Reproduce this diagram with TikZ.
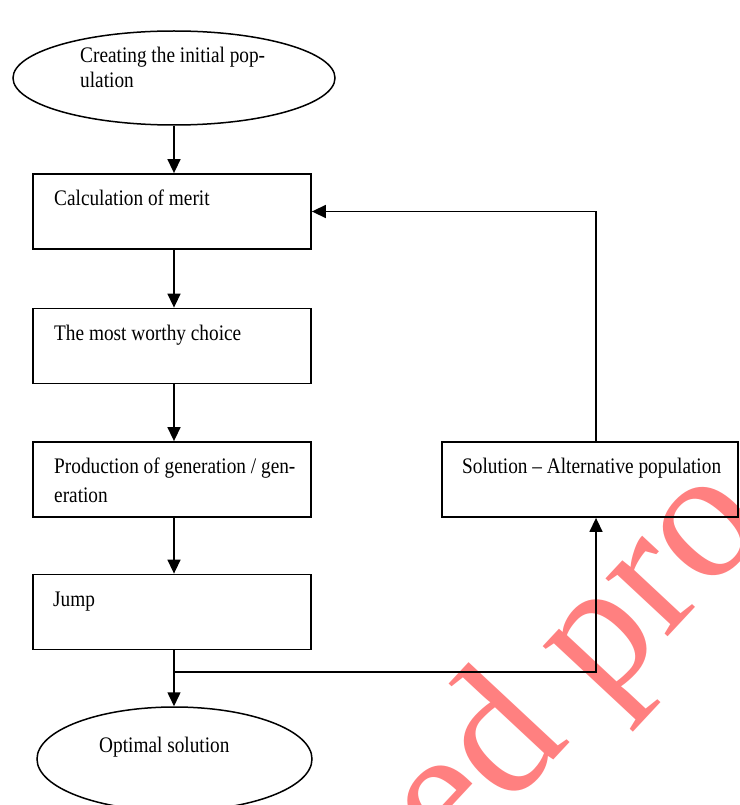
\documentclass[tikz,border=0pt]{standalone}
\usepackage{fontspec}
\setmainfont{Liberation Serif}
\usetikzlibrary{shapes.geometric,arrows.meta}
\definecolor{wm}{RGB}{255,128,128}
\newcommand{\tall}[1]{\scalebox{1}[1.15]{#1}}
\tikzset{
  boxnode/.style={draw,line width=1.8pt,rectangle,minimum width=278pt,minimum height=75pt,inner sep=0pt},
  ovalnode/.style={draw,line width=1.5pt,ellipse,inner sep=0pt},
  txt/.style={anchor=base west,inner sep=0pt,font=\fontsize{19.3}{25}\selectfont},
  conn/.style={line width=1.5pt},
  arr/.style={conn,-{Triangle[length=14pt,width=13pt]}},
  wmark/.style={anchor=base west,inner sep=0pt,text=wm,rotate=47,font=\fontsize{185}{185}\selectfont}
}
\begin{document}
\begin{tikzpicture}[x=1pt,y=-1pt]
\useasboundingbox (0,0) rectangle (739,805);
\clip (0,0) rectangle (739,805);
\fill[white] (0,0) rectangle (739,805);
\node[wmark] (wm) at (452,869) {ed pro};
% shapes
\node[ovalnode,minimum width=322pt,minimum height=94pt] (start) at (174,78) {};
\node[boxnode] (merit) at (172,211.5) {};
\node[boxnode] (choice) at (172,346) {};
\node[boxnode] (prod) at (172,479.5) {};
\node[boxnode] (jump) at (172,612) {};
\node[boxnode,minimum width=296pt] (alt) at (590,479.5) {};
\node[ovalnode,minimum width=275pt,minimum height=104pt] (opt) at (174.5,759) {};
% texts
\node[txt] (t1a) at (80,63) {\tall{Creating the initial pop-}};
\node[txt] (t1b) at (80,88) {\tall{ulation}};
\node[txt] (t2) at (54,205) {\tall{Calculation of merit}};
\node[txt] (t3) at (54,340) {\tall{The most worthy choice}};
\node[txt] (t4a) at (54,473) {\tall{Production of generation / gen-}};
\node[txt] (t4b) at (54,502) {\tall{eration}};
\node[txt] (t5) at (53,606) {\tall{Jump}};
\node[txt] (t6) at (462,473) {\tall{Solution -- Alternative population}};
\node[txt] (t7) at (99,752) {\tall{Optimal solution}};
% connectors
\coordinate (ax) at (174,0);
\coordinate (c1) at (596,211.5);
\coordinate (j) at (174,672);
\coordinate (c2) at (596,672);
\draw[arr] (start.south) -- (start.south |- merit.north);
\draw[arr] (ax |- merit.south) -- (ax |- choice.north);
\draw[arr] (ax |- choice.south) -- (ax |- prod.north);
\draw[arr] (ax |- prod.south) -- (ax |- jump.north);
\draw[conn] (ax |- jump.south) -- (j);
\draw[arr] (j) -- (j |- opt.north);
\draw[arr] (j) -- (c2) -- (c2 |- alt.south);
\draw[arr] (c1 |- alt.north) -- (c1) -- (merit.east);
\end{tikzpicture}
\end{document}
